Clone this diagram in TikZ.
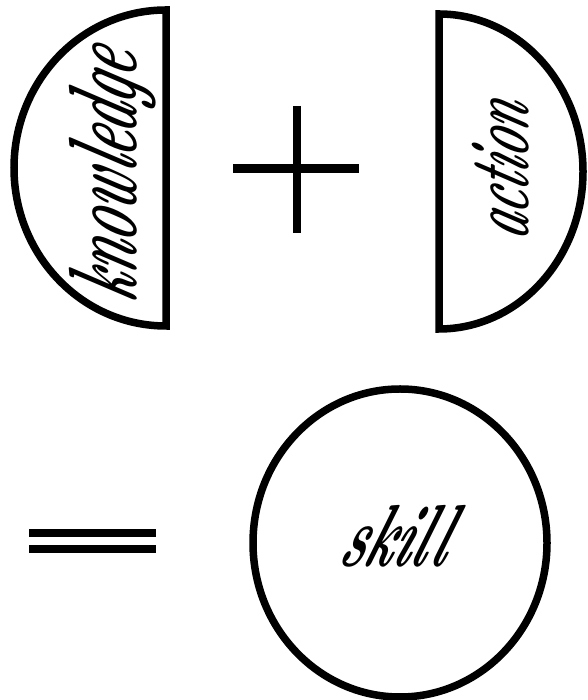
\documentclass[tikz,border=0pt]{standalone}
\usepackage{graphicx}
\begin{document}
\begin{tikzpicture}[x=1pt,y=1pt,
  outline/.style={line width=7.5pt, line join=miter},
  bar/.style={line width=8pt},
  hand/.style={inner sep=0pt, font=\bfseries\itshape}]
\useasboundingbox (0,0) rectangle (587,700);
% left half disc
\draw[outline] (166,690) arc[start angle=90, end angle=270, x radius=152, y radius=158] -- cycle;
% right half disc
\draw[outline] (439,686) arc[start angle=90, end angle=-90, x radius=144, y radius=157.5] -- cycle;
% plus sign
\draw[line width=9pt] (233,531) -- (359,531);
\draw[bar] (297,594) -- (297,467);
% equals sign
\draw[bar] (29,167) -- (156,167);
\draw[bar] (29,151) -- (156,151);
% full disc
\draw[outline] (400,157) ellipse[x radius=147, y radius=154];
% texts
\node[hand, rotate=90, xslant=0.3] (knowledge) at (113,528) {\resizebox*{250pt}{87pt}{knowledge}};
\node[hand, rotate=90, xslant=0.3] (action) at (501,534) {\resizebox*{136pt}{57pt}{action}};
\node[hand, xslant=0.35] (skill) at (400,164) {\resizebox*{106pt}{62pt}{skill}};
\end{tikzpicture}
\end{document}
